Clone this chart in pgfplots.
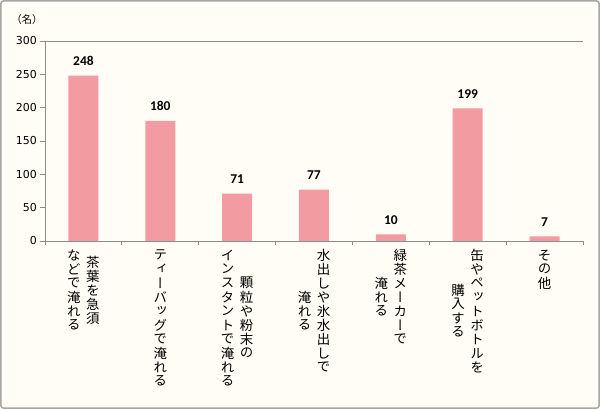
\documentclass[border=0pt]{standalone}
\usepackage{fontspec}
\usepackage{pgfplots}
\pgfplotsset{compat=1.18}
\setmainfont{Noto Sans CJK JP}
\newfontfamily\jpv[RawFeature=+vert]{Noto Sans CJK JP}
\newfontfamily\tickfont{DejaVu Sans}
\newfontfamily\valfont{Carlito}
\definecolor{cream}{HTML}{FFFDF6}
\definecolor{framegray}{HTML}{A6A6A6}
\definecolor{axisgray}{HTML}{8C8C8C}
\definecolor{barpink}{HTML}{F29CA1}
\ExplSyntaxOn
\NewDocumentCommand\vcol{m}{
  \vbox{\offinterlineskip
    \tl_map_inline:nn {#1}{\hbox to 13.5bp{\hss\vbox to 14bp{\vss\hbox{##1}\vss}\hss}}}
}
\ExplSyntaxOff
\newcommand\vlabB[2]{\jpv\fontsize{13.5}{14}\selectfont$\vcenter{\vcol{#2}}\hskip5.5bp\vcenter{\vcol{#1}}$}
\newcommand\vlabA[1]{\jpv\fontsize{13.5}{14}\selectfont\vcol{#1}}
\begin{document}
\begin{tikzpicture}
\useasboundingbox (0,0) rectangle (600bp,409bp);
\draw[framegray, fill=cream, line width=1.6bp, rounded corners=3bp] (0.8bp,0.8bp) rectangle (599.2bp,408.2bp);
\node[font=\fontsize{10.5}{11}\selectfont] at (27bp,389bp) {（名）};
\begin{axis}[
  at={(45bp,168bp)}, anchor=south west,
  scale only axis, width=538bp, height=200bp,
  xmin=-0.5, xmax=6.5, ymin=0, ymax=300,
  ytick={0,50,...,300},
  xtick={0,...,6},
  minor xtick={-0.5,0.5,...,6.5},
  xticklabels={{\vlabB{茶葉を急須}{などで淹れる}},{\vlabA{ティーバッグで淹れる}},{\vlabB{顆粒や粉末の}{インスタントで淹れる}},{\vlabB{水出しや氷水出しで}{淹れる}},{\vlabB{緑茶メーカーで}{淹れる}},{\vlabB{缶やペットボトルを}{購入する}},{\vlabA{その他}}},
  axis x line*=bottom, axis y line*=left,
  axis line style={axisgray, line width=0.8bp, -},
  tick align=outside,
  major tick length=5bp, minor tick length=4bp,
  major x tick style={draw=none},
  tick style={axisgray, line width=0.8bp},
  /pgf/number format/assume math mode=true,
  yticklabel style={font=\tickfont\fontsize{11}{12}\selectfont, inner sep=0pt, xshift=-3bp},
  xticklabel style={anchor=north, inner sep=0pt, yshift=-2bp},
  ybar, bar width=30bp,
  nodes near coords,
  every node near coord/.append style={font=\valfont\bfseries\fontsize{13.5}{14}\selectfont, inner sep=0pt, yshift=10bp},
]
\addplot[fill=barpink, draw=none] coordinates {(0,248) (1,180) (2,71) (3,77) (4,10) (5,199) (6,7)};
\draw[axisgray, line width=0.8bp] (axis cs:-0.5,300) -- (axis cs:6.5,300);
\end{axis}
\end{tikzpicture}
\end{document}
